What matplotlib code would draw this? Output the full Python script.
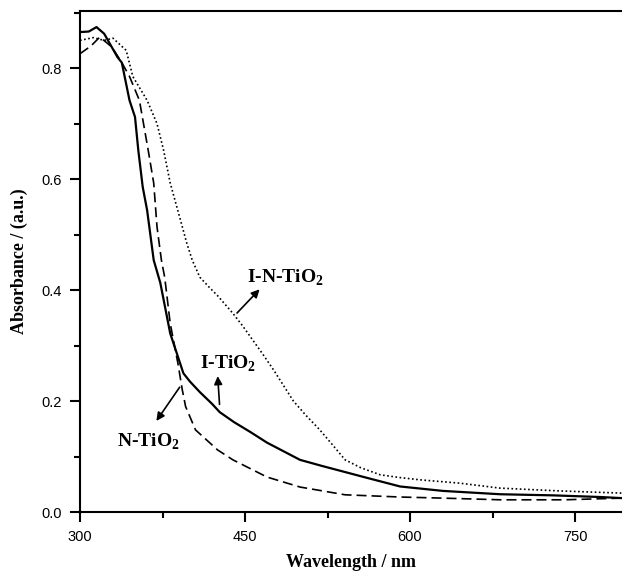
import numpy as np
import matplotlib.pyplot as plt
from matplotlib.ticker import MultipleLocator

# I-TiO2 (solid)
wl_i = [300, 308, 315, 322, 334, 338, 345, 350, 353, 357, 361, 367, 373, 382, 391, 394,
        400, 409, 420, 427, 440, 455, 470, 500, 520, 541, 560, 591, 630, 682, 730, 773, 793]
abs_i = [0.865, 0.866, 0.874, 0.862, 0.82, 0.81, 0.742, 0.712, 0.652, 0.586, 0.544, 0.454,
         0.413, 0.322, 0.268, 0.25, 0.235, 0.216, 0.195, 0.18, 0.162, 0.144, 0.125, 0.094,
         0.083, 0.072, 0.062, 0.046, 0.038, 0.032, 0.030, 0.027, 0.025]

# N-TiO2 (dashed)
wl_n = [300, 310, 318, 329, 338, 345, 354, 362, 367, 370, 374, 377, 382, 389, 393, 396,
        405, 415, 425, 439, 470, 500, 541, 591, 630, 682, 740, 793]
abs_n = [0.826, 0.84, 0.856, 0.838, 0.81, 0.785, 0.742, 0.652, 0.593, 0.514, 0.454, 0.423,
         0.34, 0.268, 0.22, 0.19, 0.148, 0.13, 0.112, 0.094, 0.063, 0.045, 0.031, 0.027,
         0.025, 0.022, 0.022, 0.025]

# I-N-TiO2 (dotted)
wl_in = [300, 312, 322, 330, 342, 348, 361, 370, 376, 382, 388, 393, 397, 402, 409, 418,
         425, 439, 448, 457, 466, 476, 485, 494, 505, 518, 530, 541, 555, 573, 591, 609,
         645, 682, 736, 793]
abs_in = [0.85, 0.855, 0.85, 0.854, 0.832, 0.785, 0.742, 0.70, 0.652, 0.593, 0.55, 0.514,
          0.485, 0.454, 0.423, 0.404, 0.39, 0.358, 0.335, 0.31, 0.285, 0.256, 0.228, 0.20,
          0.175, 0.148, 0.12, 0.094, 0.08, 0.067, 0.062, 0.058, 0.052, 0.043, 0.038, 0.034]

plt.rcParams['font.family'] = ['Liberation Sans', 'DejaVu Sans']
plt.rcParams['mathtext.fontset'] = 'custom'
plt.rcParams['mathtext.bf'] = 'Liberation Serif:bold'

fig = plt.figure(figsize=(6.22, 5.77), dpi=100)
ax = fig.add_axes([80 / 622, 65 / 577, 542 / 622, 501 / 577])

ax.plot(wl_i, abs_i, color='black', lw=1.6, ls='-')
ax.plot(wl_n, abs_n, color='black', lw=1.2, ls=(0, (6, 3)))
ax.plot(wl_in, abs_in, color='black', lw=1.2, ls=(0, (1, 1.5)))

ax.set_xlim(300, 792.7)
ax.set_ylim(0, 0.903)
ax.xaxis.set_major_locator(MultipleLocator(150))
ax.xaxis.set_minor_locator(MultipleLocator(75))
ax.yaxis.set_major_locator(MultipleLocator(0.2))
ax.yaxis.set_minor_locator(MultipleLocator(0.1))
ax.yaxis.set_major_formatter(plt.FuncFormatter(lambda v, p: f"{v:.1f}"))
ax.tick_params(which='major', direction='out', length=7, width=1.5, labelsize=10.5, pad=6)
ax.tick_params(which='minor', direction='out', length=4, width=1.5)
ax.spines['right'].set_visible(False)
for s in ['left', 'bottom', 'top']:
    ax.spines[s].set_linewidth(1.5)

lab = dict(family='Liberation Serif', fontweight='bold', fontsize=13)
ax.set_xlabel('Wavelength / nm', labelpad=7, **lab)
ax.set_ylabel('Absorbance / (a.u.)', labelpad=10, **lab)

txt = dict(family='Liberation Serif', fontweight='bold', fontsize=14)
arr = dict(arrowstyle='-|>', color='black', lw=1.2, mutation_scale=12)
ax.annotate('', xy=(465, 0.405), xytext=(441, 0.355), arrowprops=arr)
ax.text(452, 0.414, 'I-N-TiO$_\\mathbf{2}$', ha='left', va='baseline', **txt)
ax.annotate('', xy=(425, 0.25), xytext=(427, 0.189), arrowprops=arr)
ax.text(409, 0.259, 'I-TiO$_\\mathbf{2}$', ha='left', va='baseline', **txt)
ax.annotate('', xy=(368, 0.16), xytext=(392, 0.229), arrowprops=arr)
ax.text(334, 0.117, 'N-TiO$_\\mathbf{2}$', ha='left', va='baseline', **txt)

fig.savefig('out.png', dpi=100)
